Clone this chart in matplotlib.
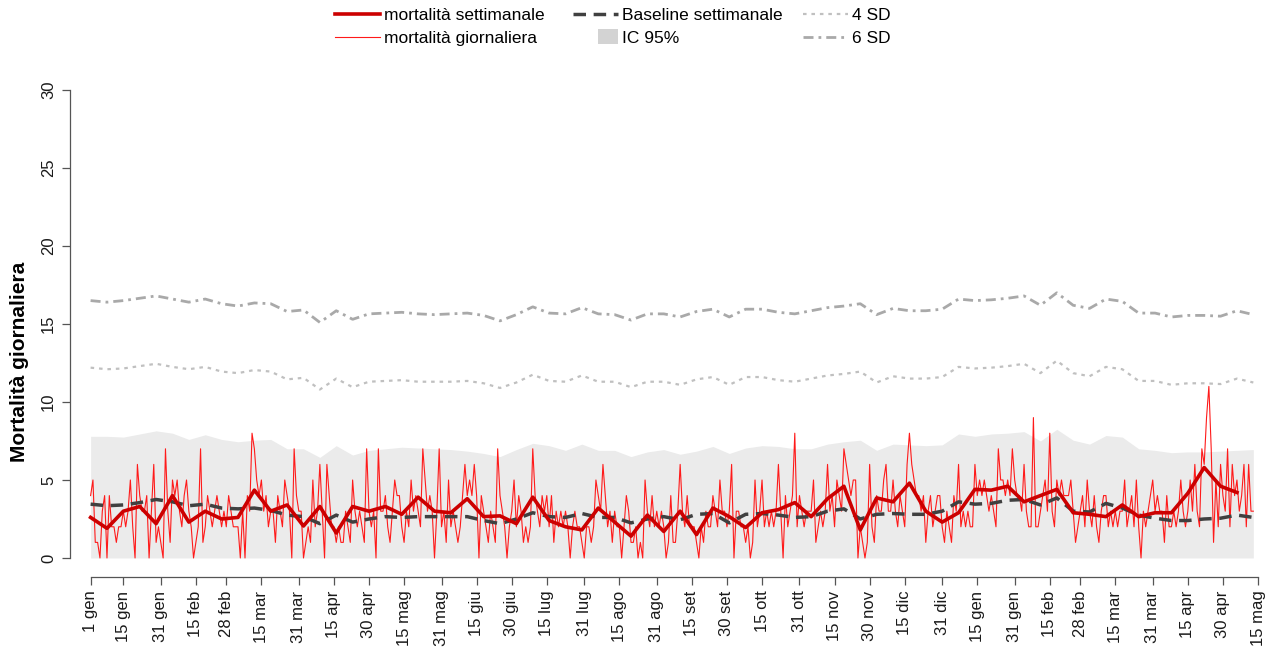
import numpy as np
import pandas as pd
import matplotlib
matplotlib.use("Agg")
import matplotlib.pyplot as plt
import matplotlib.patches as mpatches
from matplotlib.lines import Line2D
from matplotlib.legend_handler import HandlerPatch

plt.rcParams['font.family'] = ['Liberation Sans', 'DejaVu Sans']

start = pd.Timestamp('2018-01-01')

# daily deaths, one row per week
daily_deaths = [
    4, 5, 1, 1, 0, 3, 4,   0, 4, 2, 2, 1, 2, 2,   3, 2, 3, 5, 2, 0, 6,
    4, 3, 3, 4, 0, 3, 6,   1, 2, 1, 0, 7, 3, 1,   5, 4, 5, 3, 2, 4, 5,
    3, 2, 0, 1, 2, 7, 1,   2, 4, 3, 2, 3, 4, 3,   2, 3, 2, 4, 3, 2, 2,
    2, 0, 3, 0, 4, 3, 8,   7, 5, 4, 5, 3, 4, 2,   3, 3, 1, 4, 3, 2, 5,
    4, 3, 0, 7, 4, 3, 3,   0, 1, 2, 1, 5, 2, 3,   6, 3, 0, 6, 4, 2, 2,
    1, 2, 1, 1, 3, 2, 1,   5, 3, 2, 3, 2, 1, 7,   3, 2, 3, 0, 7, 3, 3,
    4, 2, 1, 3, 5, 4, 4,   2, 1, 3, 2, 5, 3, 4,   3, 2, 7, 5, 3, 4, 3,
    0, 3, 7, 2, 3, 1, 5,   2, 3, 2, 1, 2, 4, 6,   4, 5, 4, 6, 4, 0, 4,
    3, 2, 1, 3, 2, 1, 7,   4, 3, 2, 0, 2, 3, 5,   2, 4, 3, 1, 2, 1, 2,
    7, 4, 3, 2, 4, 3, 4,   2, 4, 1, 3, 2, 3, 2,   3, 2, 0, 2, 3, 2, 2,
    1, 0, 2, 2, 1, 2, 5,   4, 3, 6, 4, 2, 3, 1,   3, 2, 2, 0, 2, 4, 3,
    1, 1, 2, 0, 1, 0, 5,   3, 2, 4, 2, 3, 2, 3,   2, 0, 1, 4, 1, 1, 3,
    6, 3, 2, 4, 2, 2, 2,   1, 0, 2, 1, 3, 2, 2,   4, 3, 2, 5, 3, 3, 2,
    3, 6, 0, 3, 3, 2, 2,   1, 2, 0, 1, 5, 2, 3,   5, 2, 3, 2, 3, 2, 3,
    6, 3, 0, 4, 2, 3, 4,   8, 2, 4, 3, 2, 3, 3,   3, 5, 1, 2, 3, 2, 3,
    6, 3, 4, 2, 5, 4, 3,   7, 6, 5, 4, 5, 5, 0,   2, 1, 0, 1, 6, 2, 1,
    4, 3, 3, 5, 6, 3, 3,   5, 3, 2, 4, 3, 2, 6,   8, 6, 5, 4, 4, 3, 4,
    1, 3, 4, 2, 3, 4, 4,   2, 1, 3, 2, 1, 4, 3,   6, 2, 3, 2, 3, 2, 2,
    6, 4, 5, 4, 5, 4, 3,   4, 3, 2, 7, 5, 5, 4,   5, 4, 7, 5, 4, 4, 3,
    6, 3, 2, 2, 9, 2, 2,   3, 4, 5, 3, 8, 3, 2,   5, 4, 5, 4, 4, 4, 5,
    3, 1, 2, 3, 4, 2, 5,   3, 2, 4, 2, 1, 3, 4,   4, 2, 3, 2, 3, 2, 3,
    3, 5, 2, 3, 4, 2, 5,   2, 0, 3, 2, 3, 4, 5,   3, 4, 3, 3, 1, 4, 2,
    2, 3, 2, 3, 5, 3, 2,   3, 5, 3, 6, 3, 2, 7,   6, 9, 11, 7, 1, 5, 2,
    6, 4, 3, 7, 2, 6, 4,   5, 3, 4, 6, 2, 6, 3,   3,
]

weekly_deaths = [
    2.6, 1.9, 3.0, 3.3, 2.2, 4.0, 2.3, 3.0, 2.5, 2.6,
    4.35, 3.0, 3.4, 2.05, 3.3, 1.6, 3.3, 3.0, 3.3, 2.8,
    3.9, 3.0, 2.9, 3.8, 2.65, 2.7, 2.2, 3.9, 2.4, 2.0,
    1.8, 3.2, 2.3, 1.4, 2.75, 1.7, 3.0, 1.5, 3.2, 2.65,
    1.95, 2.9, 3.1, 3.55, 2.65, 3.8, 4.6, 1.8, 3.85, 3.6,
    4.8, 3.0, 2.3, 2.9, 4.4, 4.35, 4.6, 3.6, 4.0, 4.4,
    2.9, 2.8, 2.65, 3.4, 2.65, 2.9, 2.9, 4.15, 5.8, 4.6, 4.2,
]

baseline = [
    3.45, 3.35, 3.4, 3.55, 3.75, 3.6, 3.35, 3.45, 3.2, 3.15,
    3.2, 3.05, 2.75, 2.65, 2.2, 2.75, 2.3, 2.5, 2.65, 2.6,
    2.65, 2.65, 2.65, 2.65, 2.4, 2.2, 2.5, 2.9, 2.65, 2.6,
    2.85, 2.6, 2.6, 2.25, 2.5, 2.65, 2.45, 2.8, 2.85, 2.25,
    2.8, 2.85, 2.75, 2.6, 2.65, 3.0, 3.15, 2.5, 2.8, 2.85,
    2.8, 2.8, 3.0, 3.6, 3.45, 3.5, 3.7, 3.75, 3.4, 3.85,
    3.0, 2.95, 3.5, 3.2, 2.75, 2.55, 2.4, 2.4, 2.5, 2.55,
    2.75, 2.6,
]

ic95_upper = [
    7.8, 7.8, 7.75, 7.95, 8.15, 8.0, 7.6, 7.9, 7.6, 7.45,
    7.55, 7.6, 7.0, 7.0, 6.45, 7.2, 6.6, 6.9, 7.0, 7.1,
    7.05, 7.0, 6.95, 6.85, 6.7, 6.5, 6.95, 7.35, 7.2, 6.9,
    7.3, 6.9, 6.9, 6.5, 6.8, 6.95, 6.65, 6.85, 7.15, 6.7,
    7.05, 7.2, 7.15, 7.0, 7.0, 7.3, 7.45, 7.55, 6.9, 7.3,
    7.25, 7.2, 7.25, 7.95, 7.8, 7.95, 8.0, 8.1, 7.5, 8.25,
    7.55, 7.3, 7.85, 7.75, 7.0, 6.9, 6.75, 6.8, 6.8, 6.85,
    6.9, 6.95,
]

sd4 = [
    12.2, 12.1, 12.15, 12.3, 12.45, 12.25, 12.1, 12.25, 11.95, 11.85,
    12.05, 11.95, 11.45, 11.55, 10.8, 11.5, 10.95, 11.3, 11.35, 11.4,
    11.3, 11.3, 11.3, 11.35, 11.2, 10.9, 11.25, 11.75, 11.35, 11.3,
    11.7, 11.3, 11.3, 10.95, 11.3, 11.3, 11.1, 11.45, 11.6, 11.1,
    11.6, 11.6, 11.4, 11.3, 11.5, 11.7, 11.8, 11.95, 11.25, 11.65,
    11.5, 11.5, 11.6, 12.25, 12.15, 12.2, 12.3, 12.45, 11.85, 12.65,
    11.85, 11.65, 12.25, 12.1, 11.35, 11.35, 11.1, 11.2, 11.2, 11.15,
    11.5, 11.25,
]

sd6 = [
    16.5, 16.4, 16.5, 16.65, 16.8, 16.6, 16.4, 16.6, 16.3, 16.15,
    16.35, 16.3, 15.8, 15.9, 15.1, 15.85, 15.3, 15.65, 15.7, 15.75,
    15.65, 15.6, 15.65, 15.7, 15.55, 15.2, 15.6, 16.1, 15.7, 15.65,
    16.05, 15.65, 15.6, 15.25, 15.65, 15.65, 15.45, 15.8, 15.95, 15.45,
    15.95, 15.95, 15.75, 15.65, 15.85, 16.05, 16.15, 16.3, 15.6, 16.0,
    15.85, 15.85, 15.95, 16.6, 16.5, 16.55, 16.65, 16.8, 16.2, 17.0,
    16.2, 16.0, 16.6, 16.45, 15.7, 15.7, 15.45, 15.55, 15.55, 15.5,
    15.85, 15.6,
]

tick_dates = [
    '2018-01-01', '2018-01-15', '2018-01-31', '2018-02-15', '2018-02-28',
    '2018-03-15', '2018-03-31', '2018-04-15', '2018-04-30', '2018-05-15',
    '2018-05-31', '2018-06-15', '2018-06-30', '2018-07-15', '2018-07-31',
    '2018-08-15', '2018-08-31', '2018-09-15', '2018-09-30', '2018-10-15',
    '2018-10-31', '2018-11-15', '2018-11-30', '2018-12-15', '2018-12-31',
    '2019-01-15', '2019-01-31', '2019-02-15', '2019-02-28', '2019-03-15',
    '2019-03-31', '2019-04-15', '2019-04-30', '2019-05-15',
]
mesi = ['gen', 'feb', 'mar', 'apr', 'mag', 'giu',
        'lug', 'ago', 'set', 'ott', 'nov', 'dic']

tick_ts = pd.to_datetime(tick_dates)
tick_days = (tick_ts - start).days
tick_labels = [f"{d.day} {mesi[d.month - 1]}" for d in tick_ts]

day_daily = np.arange(len(daily_deaths))
day_week = np.arange(len(weekly_deaths)) * 7
day_base = np.arange(len(baseline)) * 7

W, H = 1284, 661
fig = plt.figure(figsize=(W / 100, H / 100), dpi=100)
# axes box: left spine at x=70px, bottom spine at y=577px
px_day = (1258 - 90.6) / 499
x0 = -(90.6 - 70) / px_day
x1 = 510
ax = fig.add_axes([70 / W, (H - 576.7) / H, (x1 - x0) * px_day / W, (576.7 - 71.3) / H])

c_week = '#cc0000'
c_day = '#ff1a1a'
c_base = '#404040'
c_sd4 = '#c0c0c0'
c_sd6 = '#a9a9a9'
c_ic = '#ebebeb'

ax.fill_between(day_base, 0, ic95_upper, color=c_ic, lw=0, zorder=1)
ax.plot(day_base, sd4, color=c_sd4, lw=1.6, ls=(0, (1.6, 2.2)), zorder=2)
ax.plot(day_base, sd6, color=c_sd6, lw=2.0, ls=(0, (3.6, 1.8, 1.0, 1.8)), zorder=2)
ax.plot(day_daily, daily_deaths, color=c_day, lw=0.8, zorder=3)
ax.plot(day_base, baseline, color=c_base, lw=2.5, ls=(0, (3.6, 2.2)), zorder=4)
ax.plot(day_week, weekly_deaths, color=c_week, lw=2.6, zorder=5)

ax.set_xlim(x0, x1)
ax.set_ylim(-1.2, 31.2)

for s in ['top', 'right']:
    ax.spines[s].set_visible(False)
ax.spines['left'].set_bounds(0, 30)
ax.spines['bottom'].set_bounds(tick_days[0], tick_days[-1])
for s in ['left', 'bottom']:
    ax.spines[s].set_color('#555555')
    ax.spines[s].set_linewidth(0.9)

ax.set_xticks(tick_days)
ax.set_xticklabels(tick_labels, rotation=90, fontsize=12, color='#1a1a1a')
ax.set_yticks(range(0, 31, 5))
ax.set_yticklabels([str(v) for v in range(0, 31, 5)], rotation=90, va='center',
                   fontsize=12, color='#1a1a1a')
ax.tick_params(axis='both', length=6, width=0.9, color='#555555', pad=4)
ax.set_ylabel('Mortalità giornaliera', fontsize=15, fontweight='bold')
ax.yaxis.set_label_coords(-0.034, (576.7 - 362) / 505.4)


def ic_box(legend, orig_handle, xdescent, ydescent, width, height, fontsize):
    return mpatches.Rectangle((-xdescent + width * 0.55, -ydescent - 1),
                              width * 0.45, height + 2)


h_week = Line2D([], [], color=c_week, lw=2.6)
h_day = Line2D([], [], color=c_day, lw=0.8)
h_base = Line2D([], [], color=c_base, lw=2.5, ls=(0, (3.6, 2.2)))
h_ic = mpatches.Rectangle((0, 0), 1, 1, color='#d3d3d3', lw=0)
h_sd4 = Line2D([], [], color=c_sd4, lw=1.6, ls=(0, (1.6, 2.2)))
h_sd6 = Line2D([], [], color=c_sd6, lw=2.0, ls=(0, (3.6, 1.8, 1.0, 1.8)))

leg_kw = dict(loc='upper left', frameon=False, fontsize=12.5, handlelength=2.6,
              handletextpad=0.2, labelspacing=0.42, borderpad=0, borderaxespad=0)
top = 1 - 8 / H
leg1 = fig.legend([h_week, h_day], ['mortalità settimanale', 'mortalità giornaliera'],
                  bbox_to_anchor=(335 / W, top), **leg_kw)
leg2 = fig.legend([h_base, h_ic], ['Baseline settimanale', 'IC 95%'],
                  bbox_to_anchor=(573 / W, top),
                  handler_map={mpatches.Rectangle: HandlerPatch(patch_func=ic_box)},
                  **leg_kw)
leg3 = fig.legend([h_sd4, h_sd6], ['4 SD', '6 SD'],
                  bbox_to_anchor=(803 / W, top), **leg_kw)

fig.savefig('out.png', dpi=100)
